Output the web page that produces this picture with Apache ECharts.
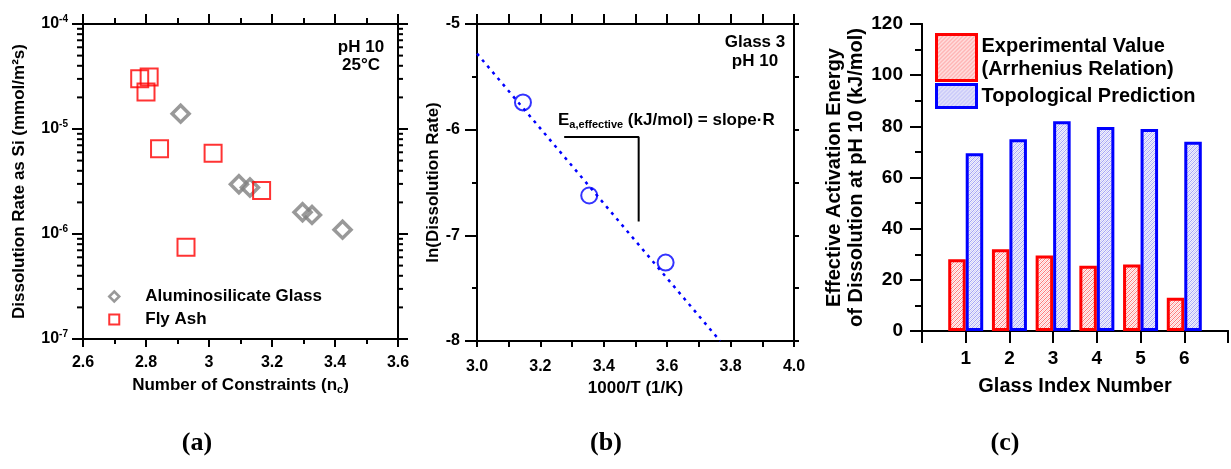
<!DOCTYPE html>
<html>
<head>
<meta charset="utf-8">
<script src="https://cdn.jsdelivr.net/npm/echarts@6/dist/echarts.min.js"></script>
<style>
  html,body{margin:0;padding:0;background:#fff}
  #main{width:1231px;height:469px}
</style>
</head>
<body>
<div id="main"></div>
<script>
// (a) 溶解速率 vs 约束数
var glassNc = [2.91, 3.095, 3.13, 3.297, 3.327, 3.424];
var glassRate = [1.40e-5, 2.98e-6, 2.77e-6, 1.61e-6, 1.52e-6, 1.10e-6];
var ashNc = [2.78, 2.81, 2.80, 2.843, 3.013, 3.167, 2.927];
var ashRate = [3.01e-5, 3.13e-5, 2.25e-5, 6.48e-6, 5.89e-6, 2.60e-6, 7.48e-7];
var logMinor = [2, 3, 4, 5, 6, 7, 8, 9];
var logDecades = [1e-7, 1e-6, 1e-5];

// (b) Arrhenius
var invT = [3.145, 3.354, 3.595];
var lnRate = [-5.742, -6.623, -7.258];
var fitX = [3.0, 3.767];
var fitY = [-5.28, -8.0];
var slopeX = [3.275, 3.51, 3.51];
var slopeY = [-6.07, -6.07, -6.87];

// (c) 活化能
var glassIdx = [1, 2, 3, 4, 5, 6];
var expEa = [28, 32, 29.5, 25.5, 26, 13];
var topoEa = [69.5, 75, 82, 79.7, 79, 74];

var FONT = '"Liberation Sans", Arial, sans-serif';

// 阴影填充
function makePattern(bg, fg, fg2) {
  var c = document.createElement('canvas');
  c.width = 4; c.height = 4;
  var ctx = c.getContext('2d');
  ctx.fillStyle = bg;
  ctx.fillRect(0, 0, 4, 4);
  for (var i = 0; i < 4; i++) {
    ctx.fillStyle = fg;
    ctx.fillRect(i, 3 - i, 1, 1);
    ctx.fillStyle = fg2;
    ctx.fillRect(i, (5 - i) % 4, 1, 1);
  }
  return {image: c, repeat: 'repeat'};
}
var redFill = makePattern('#fff3f3', '#ff7878', '#ffc8c8');
var blueFill = makePattern('#f0f0fd', '#a4a4f6', '#d2d2f7');

// log 轴次刻度位置
var minorVals = [];
logDecades.forEach(function (d) {
  logMinor.forEach(function (m) { minorVals.push(m * d); });
});

function lineStyle() { return {show: true, lineStyle: {color: '#000', width: 2}}; }
function tick(len) { return {show: true, length: len, lineStyle: {color: '#000', width: 2}}; }
function minor(len, n) { return {show: true, splitNumber: n, length: len, lineStyle: {color: '#000', width: 2}}; }
var noLabel = {show: false};
var noSplit = {show: false};
function label(size, margin, fmt) {
  var l = {color: '#000', fontWeight: 'bold', fontFamily: FONT, fontSize: size, margin: margin};
  if (fmt) l.formatter = fmt;
  return l;
}
function nameStyle(size, extra) {
  var s = {color: '#000', fontWeight: 'bold', fontFamily: FONT, fontSize: size};
  for (var k in extra) s[k] = extra[k];
  return s;
}

var myChart = echarts.init(document.getElementById('main'), null, {renderer: 'canvas'});

var option = {
  backgroundColor: '#fff',
  animation: false,
  grid: [
    {left: 83, top: 24, width: 315, height: 315},
    {left: 477, top: 24, width: 317, height: 317},
    {left: 922, top: 24, width: 307, height: 307}
  ],
  xAxis: [
    {// 0 (a) 底部
      gridIndex: 0, type: 'value', min: 2.6, max: 3.6, interval: 0.2, position: 'bottom',
      axisLine: lineStyle(), axisTick: tick(8), minorTick: minor(5, 2), splitLine: noSplit,
      axisLabel: label(16, 16),
      name: 'Number of Constraints (n{sub|c})', nameLocation: 'middle', nameGap: 36,
      nameTextStyle: nameStyle(17, {rich: {sub: {fontSize: 11, fontWeight: 'bold', fontFamily: FONT, color: '#000', padding: [9, 0, 0, 0]}}})
    },
    {// 1 (a) 顶部
      gridIndex: 0, type: 'value', min: 2.6, max: 3.6, interval: 0.2, position: 'top',
      axisLine: lineStyle(), axisTick: tick(10), minorTick: minor(6, 2), splitLine: noSplit, axisLabel: noLabel
    },
    {// 2 (b) 底部
      gridIndex: 1, type: 'value', min: 3.0, max: 4.0, interval: 0.2, position: 'bottom',
      axisLine: lineStyle(), axisTick: tick(6), minorTick: minor(6, 2), splitLine: noSplit,
      axisLabel: label(16, 18, function (v) { return v.toFixed(1); }),
      name: '1000/T (1/K)', nameLocation: 'middle', nameGap: 37,
      nameTextStyle: nameStyle(17)
    },
    {// 3 (b) 顶部
      gridIndex: 1, type: 'value', min: 3.0, max: 4.0, interval: 0.2, position: 'top',
      axisLine: lineStyle(), axisTick: tick(10), minorTick: minor(10, 2), splitLine: noSplit, axisLabel: noLabel
    },
    {// 4 (c) 底部
      gridIndex: 2, type: 'value', min: 0, max: 7, interval: 1, position: 'bottom',
      axisLine: lineStyle(), axisTick: tick(12), splitLine: noSplit,
      axisLabel: label(19, 18, function (v) { return glassIdx.indexOf(v) >= 0 ? String(v) : ''; }),
      name: 'Glass Index Number', nameLocation: 'middle', nameGap: 45,
      nameTextStyle: nameStyle(20)
    },
    {// 5 (c) 顶部
      gridIndex: 2, type: 'value', min: 0, max: 7, position: 'top',
      axisLine: lineStyle(), axisTick: {show: false}, splitLine: noSplit, axisLabel: noLabel
    }
  ],
  yAxis: [
    {// 0 (a) 左 log
      gridIndex: 0, type: 'log', logBase: 10, min: 1e-7, max: 1e-4, position: 'left',
      axisLine: lineStyle(), axisTick: tick(11), splitLine: noSplit,
      axisLabel: {color: '#000', fontWeight: 'bold', fontFamily: FONT, fontSize: 16, margin: 15,
        formatter: function (v) { return '10{sup|' + Math.round(Math.log10(v)) + '}'; },
        rich: {sup: {fontSize: 10, fontWeight: 'bold', fontFamily: FONT, color: '#000', padding: [0, 0, 9, 0]}}},
      name: 'Dissolution Rate as Si (mmol/m²s)', nameLocation: 'middle', nameGap: 55,
      nameTextStyle: nameStyle(17)
    },
    {// 1 (a) 右 log
      gridIndex: 0, type: 'log', logBase: 10, min: 1e-7, max: 1e-4, position: 'right',
      axisLine: lineStyle(), axisTick: tick(10), splitLine: noSplit, axisLabel: noLabel
    },
    {// 2 (b) 左
      gridIndex: 1, type: 'value', min: -8, max: -5, interval: 1, position: 'left',
      axisLine: lineStyle(), axisTick: tick(12), minorTick: minor(5, 2), splitLine: noSplit,
      axisLabel: label(16, 17),
      name: 'ln(Dissolution Rate)', nameLocation: 'middle', nameGap: 30,
      nameTextStyle: nameStyle(17)
    },
    {// 3 (b) 右
      gridIndex: 1, type: 'value', min: -8, max: -5, interval: 1, position: 'right',
      axisLine: lineStyle(), axisTick: tick(5), minorTick: minor(5, 2), splitLine: noSplit, axisLabel: noLabel
    },
    {// 4 (c) 左
      gridIndex: 2, type: 'value', min: 0, max: 120, interval: 20, position: 'left',
      axisLine: lineStyle(), axisTick: tick(12), minorTick: minor(7, 2), splitLine: noSplit,
      axisLabel: label(19, 19),
      name: 'Effective Activation Energy\nof Dissolution at pH 10 (kJ/mol)', nameLocation: 'middle', nameGap: 54,
      nameTextStyle: nameStyle(20, {lineHeight: 22})
    },
    {// 5 (c) 右
      gridIndex: 2, type: 'value', min: 0, max: 120, position: 'right',
      axisLine: lineStyle(), axisTick: {show: false}, splitLine: noSplit, axisLabel: noLabel
    }
  ],
  legend: [
    {
      data: [
        {name: 'Aluminosilicate Glass', icon: 'diamond', itemStyle: {borderWidth: 2.5}},
        {name: 'Fly Ash', icon: 'rect', itemStyle: {borderWidth: 2}}
      ],
      orient: 'vertical', left: 108, top: 288, padding: 0,
      itemWidth: 10, itemHeight: 10, itemGap: 6,
      textStyle: {color: '#000', fontWeight: 'bold', fontFamily: FONT, fontSize: 17, padding: [0, 0, 0, 21]}
    },
    {
      data: [{name: 'Experimental Value\n(Arrhenius Relation)', icon: 'rect'}],
      orient: 'vertical', left: 935, top: 33, padding: 0,
      itemWidth: 40, itemHeight: 46, itemStyle: {borderWidth: 3},
      textStyle: {color: '#000', fontWeight: 'bold', fontFamily: FONT, fontSize: 20, lineHeight: 23}
    },
    {
      data: [{name: 'Topological Prediction', icon: 'rect'}],
      orient: 'vertical', left: 935, top: 83, padding: 0,
      itemWidth: 40, itemHeight: 23, itemStyle: {borderWidth: 3},
      textStyle: {color: '#000', fontWeight: 'bold', fontFamily: FONT, fontSize: 20}
    }
  ],
  series: [
    {
      name: 'Aluminosilicate Glass', type: 'scatter', xAxisIndex: 0, yAxisIndex: 0,
      symbol: 'rect', symbolRotate: 45, symbolSize: 12,
      itemStyle: {color: 'rgba(255,255,255,0)', borderColor: '#808080', borderWidth: 3.5},
      data: glassNc.map(function (x, i) { return [x, glassRate[i]]; })
    },
    {
      name: 'Fly Ash', type: 'scatter', xAxisIndex: 0, yAxisIndex: 0,
      symbol: 'rect', symbolSize: 17,
      itemStyle: {color: 'rgba(255,255,255,0)', borderColor: '#ff0000', borderWidth: 2},
      data: ashNc.map(function (x, i) { return [x, ashRate[i]]; })
    },
    {
      name: 'fit', type: 'line', xAxisIndex: 2, yAxisIndex: 2, symbol: 'none',
      lineStyle: {color: '#0000ff', width: 2.5, type: [3, 5]},
      data: fitX.map(function (x, i) { return [x, fitY[i]]; })
    },
    {
      name: 'slope', type: 'line', xAxisIndex: 2, yAxisIndex: 2, symbol: 'none',
      lineStyle: {color: '#000', width: 2},
      data: slopeX.map(function (x, i) { return [x, slopeY[i]]; })
    },
    {
      name: 'Glass 3', type: 'scatter', xAxisIndex: 2, yAxisIndex: 2,
      symbol: 'circle', symbolSize: 16,
      itemStyle: {color: 'rgba(255,255,255,0)', borderColor: '#0000ff', borderWidth: 2},
      data: invT.map(function (x, i) { return [x, lnRate[i]]; })
    },
    {
      name: 'Experimental Value\n(Arrhenius Relation)', type: 'bar', xAxisIndex: 4, yAxisIndex: 4,
      barWidth: 17.5, barGap: '0%',
      itemStyle: {color: redFill, borderColor: '#ff0000', borderWidth: 3},
      data: glassIdx.map(function (x, i) { return [x, expEa[i]]; })
    },
    {
      name: 'Topological Prediction', type: 'bar', xAxisIndex: 4, yAxisIndex: 4,
      barWidth: 17.5, barGap: '0%',
      itemStyle: {color: blueFill, borderColor: '#0000ff', borderWidth: 3},
      data: glassIdx.map(function (x, i) { return [x, topoEa[i]]; })
    }
  ]
};
myChart.setOption(option);

// 文字与 log 轴次刻度（2..9 × 10^n），次刻度位置用坐标轴换算
var elements = [
  {type: 'text', x: 361, y: 38, style: {text: 'pH 10\n25°C', textAlign: 'center',
    font: 'bold 17px ' + FONT, lineHeight: 18, fill: '#000'}},
  {type: 'text', x: 755, y: 33, style: {text: 'Glass 3\npH 10', textAlign: 'center',
    font: 'bold 17px ' + FONT, lineHeight: 19, fill: '#000'}},
  {type: 'text', x: 558, y: 110, style: {text: 'E{s|a,effective} (kJ/mol) = slope·R',
    font: 'bold 17px ' + FONT, fill: '#000',
    rich: {s: {fontSize: 11, fontWeight: 'bold', fontFamily: FONT, fill: '#000', padding: [9, 0, 0, 0]}}}},
  {type: 'text', x: 197, y: 430, style: {text: '(a)', textAlign: 'center',
    font: 'bold 26px "Liberation Serif", serif', fill: '#000'}},
  {type: 'text', x: 606, y: 430, style: {text: '(b)', textAlign: 'center',
    font: 'bold 26px "Liberation Serif", serif', fill: '#000'}},
  {type: 'text', x: 1005, y: 430, style: {text: '(c)', textAlign: 'center',
    font: 'bold 26px "Liberation Serif", serif', fill: '#000'}}
];
minorVals.forEach(function (v) {
  var pl = myChart.convertToPixel({xAxisIndex: 0, yAxisIndex: 0}, [2.6, v]);
  var pr = myChart.convertToPixel({xAxisIndex: 0, yAxisIndex: 0}, [3.6, v]);
  if (!pl || !pr) return;
  elements.push({type: 'line', z: 50, shape: {x1: pl[0], y1: pl[1], x2: pl[0] - 6, y2: pl[1]},
    style: {stroke: '#000', lineWidth: 2}});
  elements.push({type: 'line', z: 50, shape: {x1: pr[0], y1: pr[1], x2: pr[0] + 5, y2: pr[1]},
    style: {stroke: '#000', lineWidth: 2}});
});
myChart.setOption({graphic: {elements: elements}});
</script>
</body>
</html>
